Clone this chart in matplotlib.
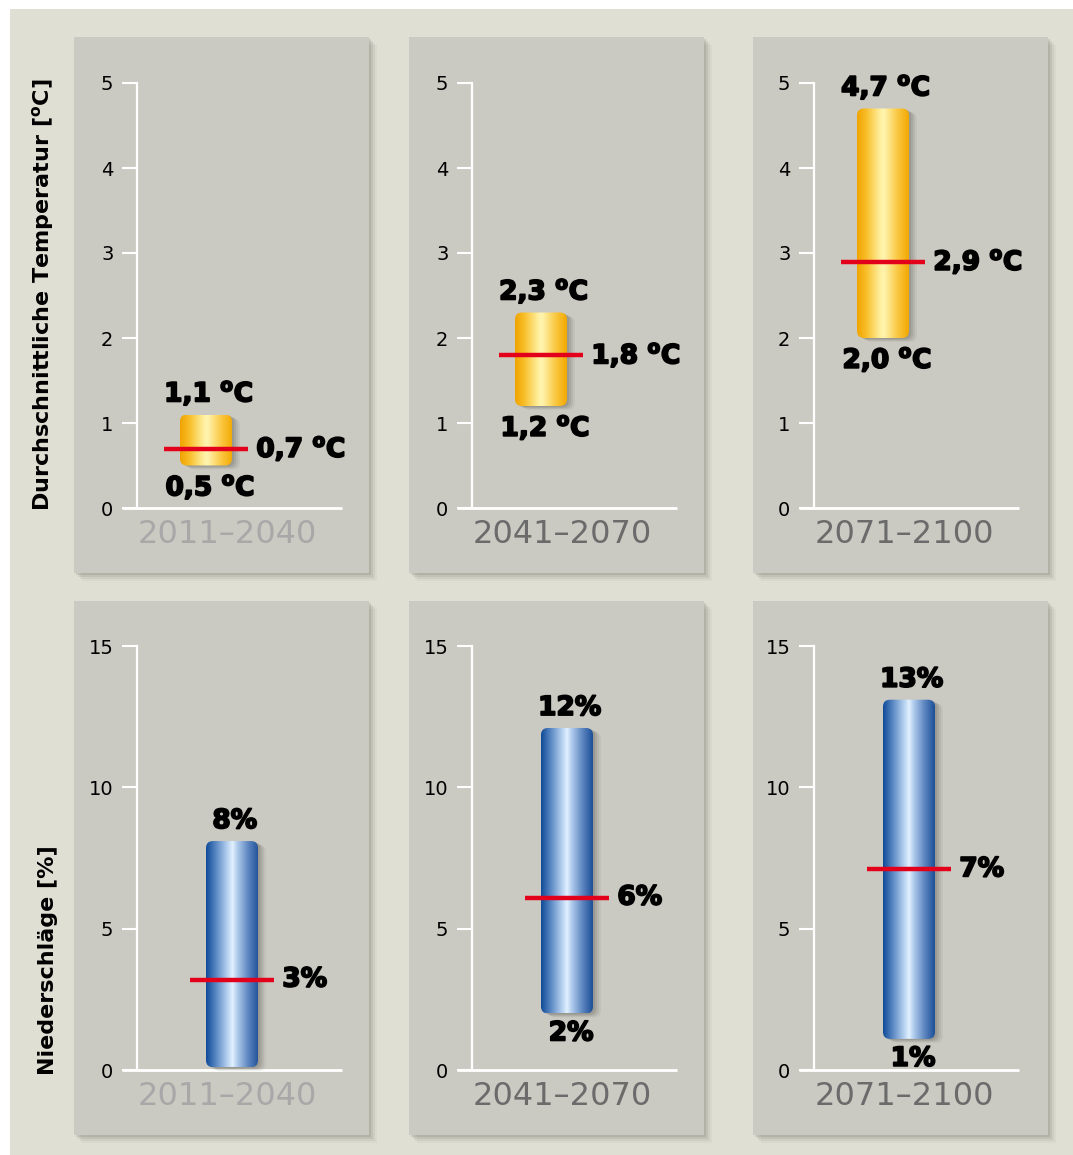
import numpy as np
import matplotlib.pyplot as plt
import matplotlib.patheffects as pe
from matplotlib.patches import Rectangle, FancyBboxPatch
from matplotlib.colors import LinearSegmentedColormap

# Daten
perioden = ["2011–2040", "2041–2070", "2071–2100"]
temp_min = [0.5, 1.2, 2.0]
temp_max = [1.1, 2.3, 4.7]
temp_mittel = [0.7, 1.8, 2.9]
nied_min = [0.1, 2.0, 1.1]
nied_max = [8.1, 12.1, 13.1]
nied_mittel = [3.2, 6.1, 7.1]
nied_min_zeigen = [False, True, True]
temp_ticks = [0, 1, 2, 3, 4, 5]
nied_ticks = [0, 5, 10, 15]

W, H = 1073, 1155


def fx(px):
    return px / W


def fy(py):
    return 1 - py / H


fig = plt.figure(figsize=(W / 100, H / 100), dpi=100)
fig.patch.set_facecolor("white")
fig.patches.append(Rectangle((fx(10), 0), 1, fy(9), transform=fig.transFigure,
                             facecolor="#dfdfd4", edgecolor="none", zorder=-3))

gold = LinearSegmentedColormap.from_list("gold", [
    (0.0, "#f0a300"), (0.18, "#f8bf2a"), (0.45, "#fff0a0"), (0.52, "#fff4b0"),
    (0.78, "#fac842"), (1.0, "#f2a800")])
blau = LinearSegmentedColormap.from_list("blau", [
    (0.0, "#0f4a98"), (0.2, "#5f8cc6"), (0.45, "#c9e0f8"), (0.5, "#e4f1ff"),
    (0.58, "#b5d0ef"), (0.8, "#5d86c0"), (1.0, "#1d4f98")])
grad = np.linspace(0, 1, 256).reshape(1, -1)

panel_x = [(74, 369), (409, 704), (753, 1048)]
achsen_x = [137, 472, 814]
zeilen = [
    dict(top=37, bottom=573, y0=508, ytop=83, ymax=5, ticks=temp_ticks,
         lo=temp_min, hi=temp_max, mid=temp_mittel, cmap=gold, bar_off=69,
         einheit="temp"),
    dict(top=601, bottom=1135, y0=1070, ytop=646, ymax=15, ticks=nied_ticks,
         lo=nied_min, hi=nied_max, mid=nied_mittel, cmap=blau, bar_off=95,
         einheit="nied"),
]
AX_W = 205
BAR_W = 52
LINE_W = 84
dick = [pe.withStroke(linewidth=1.3, foreground="black")]
lab_kw = dict(fontsize=19, fontweight="bold", color="black", path_effects=dick)


def temp_text(v):
    return f"{v:.1f}".replace(".", ",") + r" $^{\mathbf{o}}$C"


def nied_text(v):
    return f"{v:.0f}%"


for z in zeilen:
    for i in range(3):
        l, r = panel_x[i]
        # Schatten + Panel
        for d, a in [(8, 0.06), (6, 0.09), (4, 0.13), (2, 0.18)]:
            fig.patches.append(Rectangle((fx(l + d), fy(z["bottom"] + d)), (r - l) / W,
                                         (z["bottom"] - z["top"]) / H,
                                         transform=fig.transFigure, facecolor="#6e6e66",
                                         alpha=a, edgecolor="none", zorder=-2))
        fig.patches.append(Rectangle((fx(l), fy(z["bottom"])), (r - l) / W,
                                     (z["bottom"] - z["top"]) / H,
                                     transform=fig.transFigure, facecolor="#cbcac2",
                                     edgecolor="none", zorder=-1))

        h_px = z["y0"] - z["ytop"]
        ax = fig.add_axes([fx(achsen_x[i]), fy(z["y0"]), AX_W / W, h_px / H])
        ax.set_zorder(5)
        ax.patch.set_visible(False)
        for s in ["top", "right", "bottom"]:
            ax.spines[s].set_visible(False)
        ax.spines["left"].set_color("white")
        ax.spines["left"].set_linewidth(1.6)
        ax.set_xticks([])
        ax.set_yticks(z["ticks"])
        ax.tick_params(axis="y", color="white", labelcolor="black", length=11,
                       width=1.5, pad=6, labelsize=14)
        ax.plot([-15 / AX_W, 1.0], [0, 0], color="white", lw=2, clip_on=False,
                solid_capstyle="butt")

        xc = z["bar_off"] / AX_W
        bw = BAR_W / AX_W
        lo, hi, mid = z["lo"][i], z["hi"][i], z["mid"][i]
        rnd = 7 / AX_W
        asp = AX_W * z["ymax"] / h_px
        py = z["ymax"] / h_px  # Daten pro Pixel (y)

        # Schatten des Balkens
        for d, a in [(8, 0.07), (6, 0.1), (4, 0.14), (2, 0.16)]:
            ax.add_patch(FancyBboxPatch((xc - bw / 2 + d / AX_W, lo - d * 0.5 * py), bw,
                                        hi - lo, boxstyle=f"round,pad=0,rounding_size={rnd}",
                                        mutation_aspect=asp, facecolor="#55554d", alpha=a,
                                        edgecolor="none", zorder=2, clip_on=False))
        form = FancyBboxPatch((xc - bw / 2, lo), bw, hi - lo,
                              boxstyle=f"round,pad=0,rounding_size={rnd}",
                              mutation_aspect=asp, facecolor="none", edgecolor="none",
                              zorder=3)
        ax.add_patch(form)
        im = ax.imshow(grad, extent=[xc - bw / 2, xc + bw / 2, lo, hi], aspect="auto",
                       cmap=z["cmap"], zorder=3, interpolation="bilinear")
        im.set_clip_path(form)

        ax.plot([xc - LINE_W / 2 / AX_W, xc + LINE_W / 2 / AX_W], [mid, mid],
                color="#e2001a", lw=3.2, solid_capstyle="butt", zorder=5)

        if z["einheit"] == "temp":
            t_hi, t_lo, t_mid = temp_text(hi), temp_text(lo), temp_text(mid)
            zeige_lo = True
        else:
            t_hi, t_lo, t_mid = nied_text(hi), nied_text(lo), nied_text(mid)
            zeige_lo = nied_min_zeigen[i]

        ax.annotate(t_hi, (xc, hi), xytext=(2, 5), textcoords="offset points",
                    ha="center", va="bottom", **lab_kw)
        if zeige_lo:
            ax.annotate(t_lo, (xc, lo), xytext=(3, -5), textcoords="offset points",
                        ha="center", va="top", **lab_kw)
        ax.annotate(t_mid, (xc + LINE_W / 2 / AX_W, mid), xytext=(6, 0),
                    textcoords="offset points", ha="left", va="center", **lab_kw)

        ax.annotate(perioden[i], (90 / AX_W, 0), xytext=(0, -8), textcoords="offset points",
                    ha="center", va="top", fontsize=23,
                    color="#a8a8a8" if i == 0 else "#6b6b6b")

        ax.set_xlim(0, 1)
        ax.set_ylim(0, z["ymax"])

fig.text(fx(43), fy(295), r"Durchschnittliche Temperatur [$^{\mathbf{o}}$C]", rotation=90,
         ha="center", va="center", fontsize=16, fontweight="bold")
fig.text(fx(48), fy(960), "Niederschläge [%]", rotation=90, ha="center", va="center",
         fontsize=16, fontweight="bold")

fig.savefig("out.png", dpi=100)
